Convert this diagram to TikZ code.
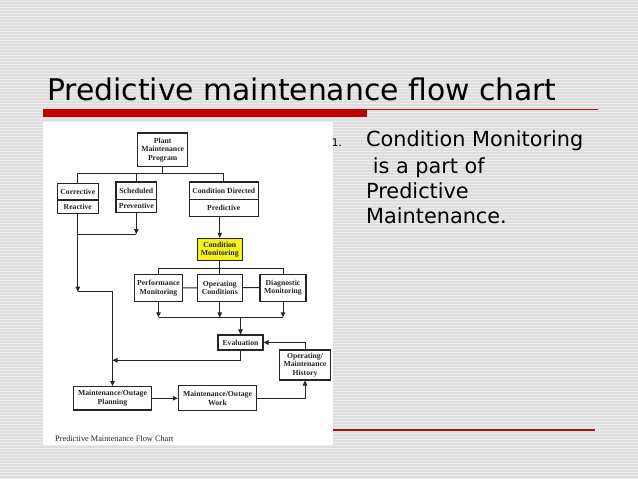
\documentclass[tikz,border=0pt]{standalone}
\usepackage{fontspec}
\setmainfont{DejaVu Sans}
\newfontfamily\scanfont{Liberation Serif}
\usepackage{tikz}
\usetikzlibrary{arrows.meta, positioning}
\usepackage{xcolor}
\definecolor{slidebg}{HTML}{DEDEDE}
\definecolor{slidestripe}{HTML}{ECECEC}
\definecolor{barred}{HTML}{C00000}
\definecolor{linered}{HTML}{A01818}
\definecolor{cmyellow}{HTML}{F5F21A}
\definecolor{ink}{HTML}{262626}

\begin{document}
\begin{tikzpicture}[x=1pt, y=-1pt,
  box/.style={draw=ink, line width=1.1pt, fill=white, align=center, inner sep=1pt,
    text=ink, font=\scanfont\bfseries\fontsize{7.7}{8.6}\selectfont},
  link/.style={draw=ink, line width=1pt},
  >={Triangle[length=5pt, width=4.5pt]}
]
  \useasboundingbox (0,0) rectangle (638,479);

  % --- slide background ---
  \fill[slidebg] (0,0) rectangle (638,479);
  \foreach \y in {1,4,...,478} {
    \draw[slidestripe, line width=1pt] (0,\y) -- (638,\y);
  }
  \node[anchor=base west, inner sep=0, font=\fontsize{29.8}{36}\selectfont] (title)
    at (47,100) {Predictive maintenance flow chart};
  \fill[barred] (43,109) rectangle (367,117);
  \draw[linered, line width=1pt] (367,109.5) -- (598,109.5);
  \draw[linered, line width=1.2pt] (333,430) -- (595,430);
  \fill[white] (43,122) rectangle (333,445);

  % --- bullet text ---
  \node[anchor=base west, inner sep=0, font=\fontsize{10.5}{12}\selectfont] (num)
    at (331.7,146.7) {1.};
  \foreach \txt/\yy [count=\i] in {Condition Monitoring/146.7,
      {\hspace*{6.6pt}is a part of}/173.3, Predictive/198.3, Maintenance./223.3} {
    \node[anchor=base west, inner sep=0, font=\fontsize{20.8}{25}\selectfont] (line\i)
      at (366,\yy) {\txt};
  }

  % --- program level ---
  \node[box, minimum width=50pt, minimum height=33.7pt] (plant) at (162.7,149.8)
    {Plant\\Maintenance\\Program};
  \node[box, minimum width=41pt, minimum height=16.7pt] (corr) at (77.8,191.65) {Corrective};
  \node[box, minimum width=41pt, minimum height=13.3pt, below=-1.1pt of corr] (corrp) {Reactive};
  \node[box, minimum width=40.7pt, minimum height=17.3pt] (sched) at (136.3,190.65) {Scheduled};
  \node[box, minimum width=40.7pt, minimum height=13.4pt, below=-1.1pt of sched] (schedp) {Preventive};
  \node[box, minimum width=69pt, minimum height=17.3pt] (cdir) at (223.8,190.65) {Condition Directed};
  \node[box, minimum width=69pt, minimum height=17.4pt, below=-1.1pt of cdir] (cdirp) {Predictive};

  \coordinate (bus1) at (162.7,173.3);
  \draw[link] (plant.south) -- (bus1);
  \draw[link] (corr.north) |- (bus1) -| (cdir.north);
  \draw[link] (sched.north) -- (sched.north |- bus1);

  % --- monitoring level ---
  \node[box, fill=cmyellow, minimum width=45pt, minimum height=22.4pt] (condmon)
    at (219.8,249.5) {Condition\\Monitoring};
  \node[box, minimum width=48.4pt, minimum height=27.4pt] (perf) at (158.5,288)
    {Performance\\Monitoring};
  \node[box, minimum width=44.6pt, minimum height=26.7pt] (opcond) at (219.8,287.7)
    {Operating\\Conditions};
  \node[box, minimum width=46pt, minimum height=26.7pt] (diag) at (283,287.7)
    {Diagnostic\\Monitoring};

  \draw[link, ->] (condmon.north |- cdirp.south) -- (condmon.north);
  \coordinate (bus2) at (219.8,268.3);
  \draw[link] (condmon.south) -- (bus2);
  \draw[link] (perf.north) |- (bus2) -| (diag.north);
  \draw[link] (opcond.north) -- (bus2);
  \draw[link] (perf) -- (opcond) -- (diag);

  % --- evaluation and work ---
  \node[box, minimum width=45pt, minimum height=15pt] (eval) at (240.5,342.5) {Evaluation};
  \node[box, minimum width=50.6pt, minimum height=30pt] (hist) at (305,365)
    {Operating/\\Maintenance\\History};
  \node[box, minimum width=78.4pt, minimum height=23.3pt] (mop) at (112.5,398.3)
    {Maintenance/Outage\\Planning};
  \node[box, minimum width=78.4pt, minimum height=25pt] (mow) at (217.5,398.3)
    {Maintenance/Outage\\Work};

  \coordinate (bus3) at (240.5,317.3);
  \foreach \n in {perf, opcond, diag} {
    \draw[link, ->] (\n.south) -- (\n.south |- bus3);
  }
  \draw[link] (perf.south |- bus3) -- (diag.south |- bus3);
  \draw[link, ->] (bus3) -- (eval.north);

  % left feed from corrective / scheduled
  \coordinate (j1) at (77.8,234);
  \coordinate (j2) at (77.8,291.7);
  \coordinate (j3) at (112.5,291.7);
  \coordinate (j4) at (112.5,360.3);
  \draw[link, ->] (corrp.south) -- (j2);
  \draw[link, ->] (schedp.south) -- (schedp.south |- j1);
  \draw[link] (schedp.south |- j1) -- (j1);
  \draw[link, ->] (j2) -- (j3) -- (mop.north);
  \draw[link, ->] (eval.south) |- (j4);

  \draw[link, ->] (mop) -- (mow);
  \draw[link, ->] (mow.east) -| (hist.south);
  \draw[link, ->] (hist.north) |- (eval.east);

  \node[anchor=base west, inner sep=0, text=ink, font=\scanfont\fontsize{8.3}{10}\selectfont]
    (caption) at (55,441) {Predictive Maintenance Flow Chart};
\end{tikzpicture}
\end{document}
